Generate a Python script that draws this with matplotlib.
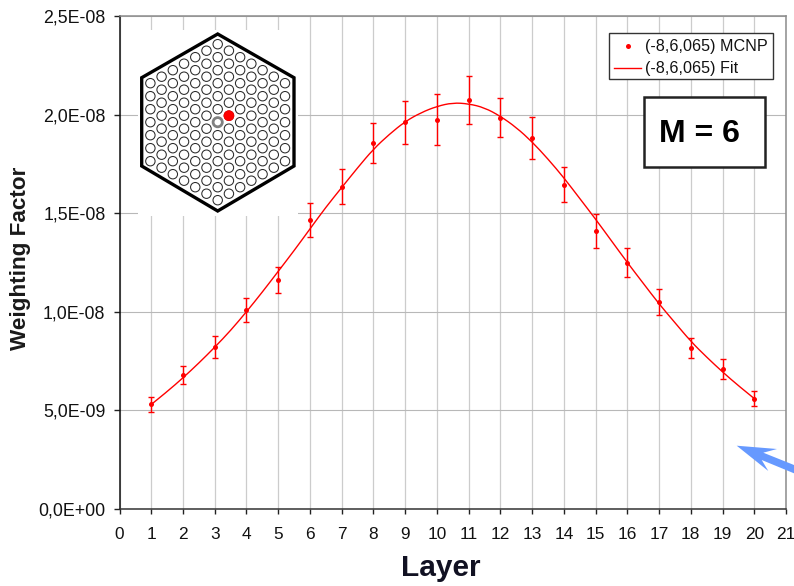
import numpy as np
import matplotlib
matplotlib.use("Agg")
import matplotlib.pyplot as plt
from matplotlib.patches import Polygon, Circle, Rectangle, PathPatch
from matplotlib.path import Path

plt.rcParams['font.family'] = ['Liberation Sans', 'DejaVu Sans']

layers = list(range(1, 21))
mcnp = [5.3e-9, 6.8e-9, 8.2e-9, 10.1e-9, 11.6e-9, 14.65e-9, 16.35e-9, 18.55e-9, 19.6e-9, 19.74e-9,
        20.74e-9, 19.84e-9, 18.83e-9, 16.45e-9, 14.1e-9, 12.5e-9, 10.5e-9, 8.15e-9, 7.1e-9, 5.6e-9]
err = [0.4e-9, 0.45e-9, 0.55e-9, 0.6e-9, 0.65e-9, 0.85e-9, 0.9e-9, 1.0e-9, 1.08e-9, 1.3e-9,
       1.23e-9, 1.0e-9, 1.06e-9, 0.9e-9, 0.85e-9, 0.75e-9, 0.65e-9, 0.5e-9, 0.5e-9, 0.4e-9]
fit_x = [1, 1.5, 2, 2.5, 3, 3.5, 4, 4.5, 5, 5.5, 6, 6.5, 7, 7.5, 8, 8.5, 9, 9.5, 10, 10.5, 11,
         11.5, 12, 12.5, 13, 13.5, 14, 14.5, 15, 15.5, 16, 16.5, 17, 17.5, 18, 18.5, 19, 19.5, 20]
fit_y = [5.3, 5.95, 6.65, 7.4, 8.2, 9.05, 10.0, 11.0, 12.05, 13.1, 14.2, 15.3, 16.3, 17.3, 18.25,
         19.0, 19.65, 20.1, 20.42, 20.6, 20.55, 20.35, 19.92, 19.35, 18.62, 17.75, 16.8, 15.75, 14.7,
         13.6, 12.5, 11.45, 10.4, 9.45, 8.5, 7.7, 6.95, 6.25, 5.6]
fit_y = [v * 1e-9 for v in fit_y]
y_ticks = [0, 5e-9, 1e-8, 1.5e-8, 2e-8, 2.5e-8]
y_labels = ['0,0E+00', '5,0E-09', '1,0E-08', '1,5E-08', '2,0E-08', '2,5E-08']

W, H = 794, 586
fig = plt.figure(figsize=(W / 100, H / 100), dpi=100, facecolor='white')
ax = fig.add_axes([119.5 / W, 1 - 509 / H, (786 - 119.5) / W, (509 - 16) / H])
ax.set_xlim(0, 21)
ax.set_ylim(0, 2.5e-8)
ax.set_xticks(range(0, 22))
ax.set_yticks(y_ticks)
ax.set_yticklabels(y_labels)
ax.tick_params(labelsize=12.8, width=1, color='#222222', labelcolor='#111111')
ax.tick_params(axis='x', length=3.6, pad=9.2, labelsize=12.4)
ax.tick_params(axis='y', length=4.3, pad=5.8)
ax.grid(True, axis='x', color='#cccccc', lw=0.9)
ax.grid(True, axis='y', color='#b8b8b8', lw=0.8)
ax.set_axisbelow(True)
for s in ('top', 'right'):
    ax.spines[s].set_color('#8c8c8c')
    ax.spines[s].set_linewidth(1.1)
ax.spines['left'].set_color('#111111')
ax.spines['bottom'].set_color('#333333')
for s in ('left', 'bottom'):
    ax.spines[s].set_linewidth(1.1)

# fit curve: quadratic spline through the read points
pts_xy = list(zip(fit_x, fit_y))
verts = [pts_xy[0]]
codes = [Path.MOVETO]
for i in range(1, len(pts_xy) - 1):
    nx = pts_xy[i + 1]
    mid = ((pts_xy[i][0] + nx[0]) / 2, (pts_xy[i][1] + nx[1]) / 2) if i < len(pts_xy) - 2 else nx
    verts += [pts_xy[i], mid]
    codes += [Path.CURVE3, Path.CURVE3]
ax.add_patch(PathPatch(Path(verts, codes), fc='none', ec='red', lw=1.0, zorder=3))
ax.errorbar(layers, mcnp, yerr=err, fmt='none', ecolor='red', elinewidth=1, capsize=2.5, capthick=1, zorder=3)
ax.plot(layers, mcnp, ls='none', marker='o', ms=3.6, mew=0, color='red', zorder=4)

fig.text(21 / W, 1 - 258 / H, 'Weighting Factor', rotation=90, ha='center', va='center',
         fontsize=16.2, fontweight='bold', color='#1a1a1a')
fig.text(441 / W, 1 - 568 / H, 'Layer', ha='center', va='center', fontsize=21.5, fontweight='bold', color='#111122')

# pixel-space overlay for the annotations
ov = fig.add_axes([0, 0, 1, 1], facecolor='none')
ov.set_xlim(0, W)
ov.set_ylim(H, 0)
ov.axis('off')

ov.add_patch(Rectangle((138, 30), 160, 186, fc='white', ec='none'))
ov.add_patch(Polygon([(217.7, 34), (294, 77.7), (294, 166), (217.7, 211), (141.7, 166), (141.7, 77.7)],
                     closed=True, fc='white', ec='black', lw=2.4, joinstyle='miter'))
cx, cy = 217.7, 122.2
dx, dy = 11.22, 13.0
for k in range(-6, 7):
    n = 13 - abs(k)
    for j in range(n):
        px = cx + k * dx
        py = cy + (j - (n - 1) / 2) * dy
        if k == 0 and j == 6:
            ov.add_patch(Circle((px, py), 4.6, fc='white', ec='#808080', lw=2.0))
        else:
            ov.add_patch(Circle((px, py), 4.7, fc='white', ec='#2a2a2a', lw=0.75))
ov.add_patch(Circle((cx + dx, cy - dy / 2), 5.0, fc='red', ec='red', lw=0.5))

# legend
ov.add_patch(Rectangle((609, 33), 164, 46, fc='white', ec='#333333', lw=1.0))
ov.plot([627.5], [45.5], marker='o', ms=3.6, mew=0, color='red', ls='none')
ov.plot([614, 641], [68, 68], color='red', lw=1.0)
ov.text(645, 46, '(-8,6,065) MCNP', fontsize=11.6, ha='left', va='center', color='#111111')
ov.text(645, 68.5, '(-8,6,065) Fit', fontsize=11.6, ha='left', va='center', color='#111111')

# M box
ov.add_patch(Rectangle((643.5, 96.5), 121, 70, fc='white', ec='#222222', lw=1.8))
ov.text(699, 134, 'M = 6', fontsize=23, fontweight='bold', ha='center', va='center', color='black')

# arrow
ov.add_patch(Polygon([(736.7, 445.7), (777, 449), (763.3, 452.7), (794, 465), (794, 473.3), (761.7, 460), (768.3, 471)],
                     closed=True, fc='#6699ff', ec='none'))

fig.savefig('out.png', dpi=100, facecolor='white')
